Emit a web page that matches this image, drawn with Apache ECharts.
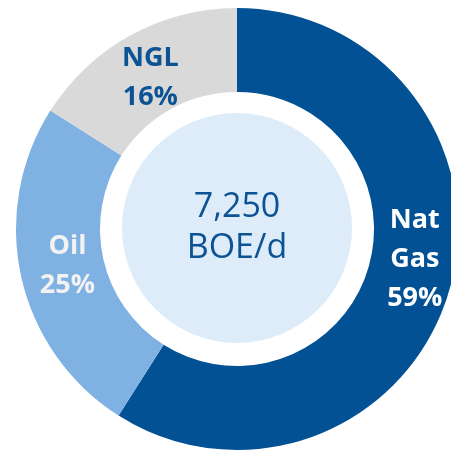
<!DOCTYPE html>
<html>
<head>
<meta charset="utf-8">
<script src="https://cdn.jsdelivr.net/npm/echarts@6/dist/echarts.min.js"></script>
<style>
html, body { margin: 0; padding: 0; background: #fff; }
#main { width: 451px; height: 450px; }
</style>
</head>
<body>
<div id="main"></div>
<script>
// 产量构成
var names = ['Nat\nGas', 'Oil', 'NGL'];
var shares = [59, 25, 16];
var colors = ['#035195', '#7fb1e3', '#d9d9d9'];
var labelColors = ['#ffffff', '#f2f2f2', '#0b5394'];
var totalText = '7,250\nBOE/d';

var servicedata = [];
for (var i = 0; i < names.length; i++) {
    var obj = new Object();
    obj.name = names[i];
    obj.value = shares[i];
    obj.itemStyle = { color: colors[i] };
    obj.label = { color: labelColors[i] };
    servicedata[i] = obj;
}
servicedata[0].label.offset = [3, -20];
servicedata[1].label.offset = [8, -3];
servicedata[2].label.offset = [1, 8];

var myChart = echarts.init(document.getElementById('main'));
myChart.setOption({
    animation: false,
    series: [
        {
            type: 'pie',
            center: [237, 229],
            radius: [137, 221],
            startAngle: 90,
            clockwise: true,
            silent: true,
            label: {
                show: true,
                position: 'inside',
                formatter: function (p) { return p.name + '\n' + p.value + '%'; },
                fontFamily: 'Open Sans',
                fontWeight: 'bold',
                fontSize: 27,
                lineHeight: 39
            },
            labelLine: { show: false },
            data: servicedata
        },
        {
            type: 'pie',
            center: [237, 228],
            radius: [0, 115],
            silent: true,
            label: {
                show: true,
                position: 'center',
                formatter: totalText,
                fontFamily: 'Open Sans',
                fontSize: 34,
                lineHeight: 41,
                color: '#0b5394'
            },
            labelLine: { show: false },
            data: [{ value: 1, name: 'total', itemStyle: { color: '#deecf9' } }]
        }
    ]
});
</script>
</body>
</html>
